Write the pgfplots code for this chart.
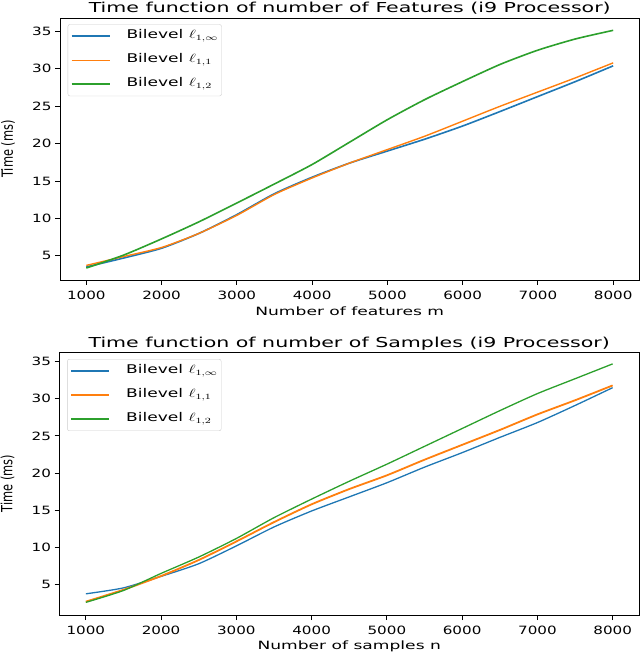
\documentclass[border=0pt]{standalone}
\usepackage{fontspec}
\setmainfont{DejaVu Sans}
\usepackage{graphicx}
\usepackage{pgfplots}
\pgfplotsset{compat=1.18}
\definecolor{mplblue}{HTML}{1F77B4}
\definecolor{mplorange}{HTML}{FF7F0E}
\definecolor{mplgreen}{HTML}{2CA02C}
\newcommand{\sx}[1]{\scalebox{1.33}[1]{#1}}
\newcommand{\sxx}[1]{\scalebox{1.5}[1]{#1}}
\newcommand{\sxl}[1]{\makebox[90pt][l]{\scalebox{1.42}[1]{#1}}}
\newcommand{\sy}[1]{\scalebox{1}[1.35]{#1}}
\pgfplotsset{mystyle/.style={
  scale only axis, width=579.5pt, height=262pt,
  xmin=650, xmax=8350,
  xtick={1000,2000,3000,4000,5000,6000,7000,8000},
  xticklabels={\sx{1000},\sx{2000},\sx{3000},\sx{4000},\sx{5000},\sx{6000},\sx{7000},\sx{8000}},
  ytick={5,10,15,20,25,30,35},
  yticklabels={\sx{5},\sx{10},\sx{15},\sx{20},\sx{25},\sx{30},\sx{35}},
  tick align=outside, xtick pos=bottom, ytick pos=left,
  major tick length=5pt,
  every tick/.style={black, line width=0.9pt},
  axis line style={line width=0.9pt},
  tick label style={font=\fontsize{11.4}{13}\selectfont},
  xticklabel style={yshift=-3pt},
  label style={font=\fontsize{11.4}{13}\selectfont},
  title style={font=\fontsize{13.7}{16}\selectfont, at={(axis description cs:0.5,1)}, anchor=base, yshift=-1pt},
  xlabel style={at={(axis description cs:0.5,0)}, anchor=base, yshift=-36pt},
  ylabel style={font=\fontsize{11.4}{13}\selectfont, at={(axis description cs:-0.0898,0.5)}, anchor=center},
  legend style={at={(axis description cs:0.0133,0.976)}, anchor=north west,
    draw=black!20, rounded corners=2pt, fill=white,
    font=\fontsize{12}{14}\selectfont,
    nodes={text height=8.5pt, text depth=3pt},
    inner xsep=3pt, inner ysep=4pt, row sep=8.5pt, column sep=14pt},
  legend cell align=left,
  legend image code/.code={\draw[#1] (0pt,0pt) -- (38pt,0pt);},
}}
\begin{document}
\begin{tikzpicture}
\path[use as bounding box] (0pt,0pt) rectangle (640pt,653pt);
% ---------- top ----------
\begin{axis}[mystyle, at={(60pt,373pt)}, anchor=south west,
  ymin=1.75, ymax=36.8,
  title={\sxx{Time function of number of Features (i9 Processor)}},
  xlabel={\sxx{Number of features m}},
  ylabel={\sy{Time (ms)}}]
\addplot[mplblue, line width=1.6pt, smooth, tension=0.4] coordinates {
(1000,3.5) (1500,4.7) (2000,6.0) (2500,8.0) (3000,10.5) (3500,13.3) (4000,15.5)
(4500,17.4) (5000,19.0) (5500,20.6) (6000,22.35) (6500,24.3) (7000,26.3) (7500,28.3) (8000,30.4)};
\addlegendentry{\sxl{Bilevel $\ell_{1,\infty}$}}
\addplot[mplorange, line width=1.4pt, smooth, tension=0.4] coordinates {
(1000,3.7) (1500,4.9) (2000,6.1) (2500,8.0) (3000,10.4) (3500,13.2) (4000,15.4)
(4500,17.4) (5000,19.2) (5500,21.0) (6000,23.0) (6500,25.0) (7000,26.9) (7500,28.8) (8000,30.8)};
\addlegendentry{\sxl{Bilevel $\ell_{1,1}$}}
\addplot[mplgreen, line width=1.6pt, smooth, tension=0.4] coordinates {
(1000,3.35) (1500,5.1) (2000,7.25) (2500,9.55) (3000,12.05) (3500,14.6) (4000,17.2)
(4500,20.2) (5000,23.2) (5500,25.9) (6000,28.3) (6500,30.6) (7000,32.5) (7500,34.0) (8000,35.15)};
\addlegendentry{\sxl{Bilevel $\ell_{1,2}$}}
\end{axis}
% ---------- bottom ----------
\begin{axis}[mystyle, at={(59.5pt,38pt)}, anchor=south west, height=263pt,
  ymin=0.9, ymax=36.3,
  title style={yshift=-1pt},
  xlabel style={yshift=2pt},
  title={\sxx{Time function of number of Samples (i9 Processor)}},
  xlabel={\sxx{Number of samples n}},
  ylabel={\sy{Time (ms)}},
  legend style={at={(axis description cs:0.0133,0.973)}}]
\addplot[mplblue, line width=1.3pt, smooth, tension=0.4] coordinates {
(1000,3.75) (1500,4.55) (2000,6.1) (2500,7.8) (3000,10.2) (3500,12.75) (4000,14.9)
(4500,16.8) (5000,18.7) (5500,20.8) (6000,22.75) (6500,24.8) (7000,26.8) (7500,29.1) (8000,31.5)};
\addlegendentry{\sxl{Bilevel $\ell_{1,\infty}$}}
\addplot[mplorange, line width=1.8pt, smooth, tension=0.4] coordinates {
(1000,2.7) (1500,4.3) (2000,6.15) (2500,8.3) (3000,10.8) (3500,13.4) (4000,15.8)
(4500,17.85) (5000,19.7) (5500,21.8) (6000,23.8) (6500,25.8) (7000,27.9) (7500,29.8) (8000,31.8)};
\addlegendentry{\sxl{Bilevel $\ell_{1,1}$}}
\addplot[mplgreen, line width=1.3pt, smooth, tension=0.4] coordinates {
(1000,2.6) (1500,4.2) (2000,6.5) (2500,8.7) (3000,11.2) (3500,14.0) (4000,16.5)
(4500,18.9) (5000,21.2) (5500,23.6) (6000,26.0) (6500,28.4) (7000,30.7) (7500,32.7) (8000,34.7)};
\addlegendentry{\sxl{Bilevel $\ell_{1,2}$}}
\end{axis}
\end{tikzpicture}
\end{document}
